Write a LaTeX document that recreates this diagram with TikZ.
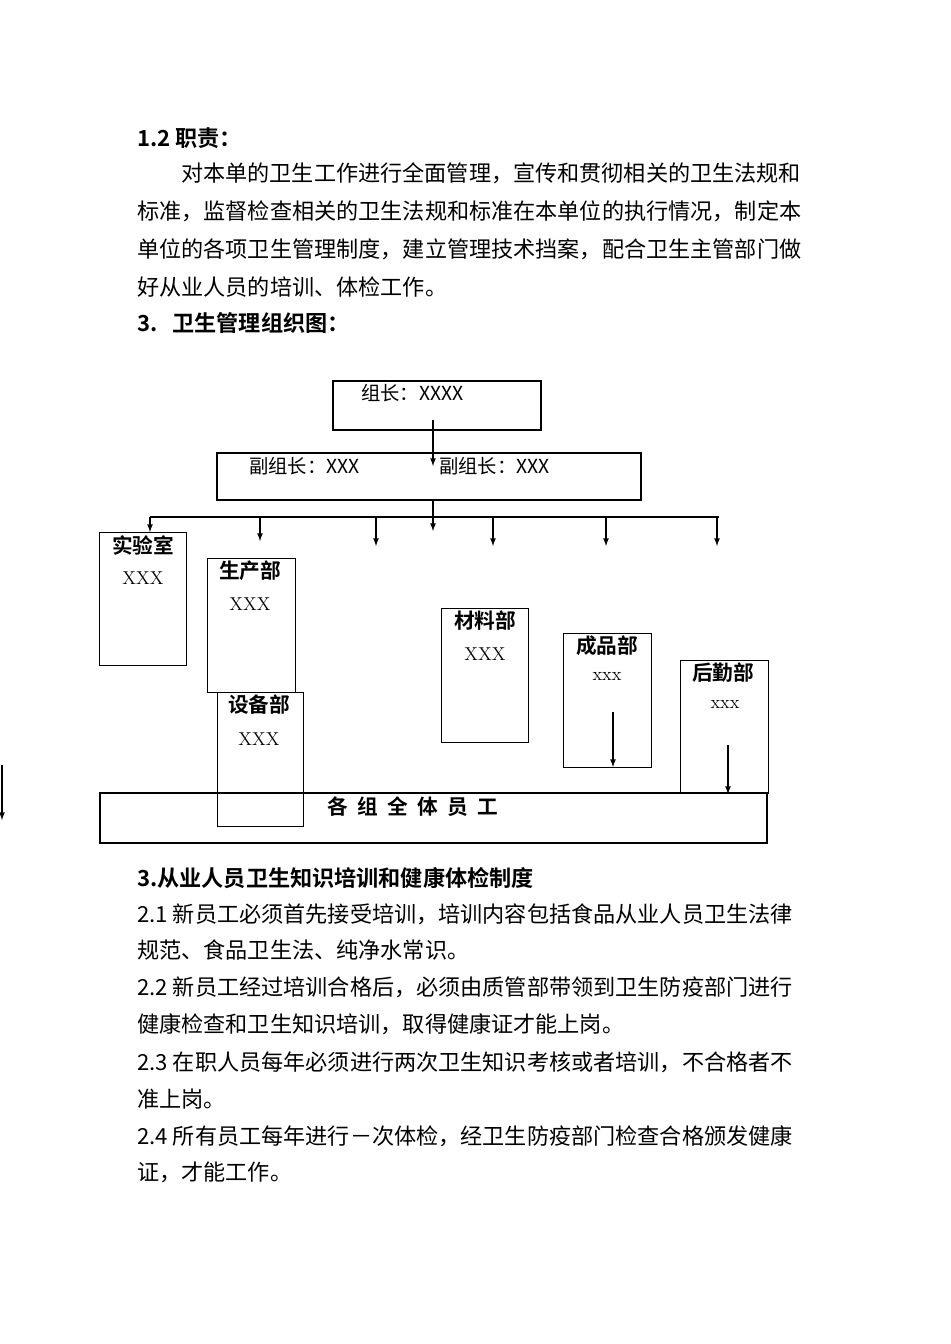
\documentclass[tikz,border=0pt]{standalone}
\usepackage{fontspec}
\newfontfamily\cjk{Noto Sans CJK SC}
\newfontfamily\cjkb{Noto Sans CJK SC Bold}
\begin{document}
\begin{tikzpicture}[x=0.75pt,y=-0.75pt,
  txt/.style={anchor=west,inner sep=0,font=\cjk\fontsize{16.6}{16.6}\selectfont},
  btxt/.style={anchor=west,inner sep=0,font=\cjkb\fontsize{16.6}{16.6}\selectfont},
  box/.style={draw,line width=0.7pt},
  tbox/.style={draw,line width=1.6pt},
  ttl/.style={inner sep=0,font=\cjkb\fontsize{15.5}{15.5}\selectfont},
  nm/.style={inner sep=0,font=\fontsize{14}{14}\selectfont},
  arr/.style={-latex,line width=1pt}]
\useasboundingbox (0,0) rectangle (950,1344);
\node[btxt] (h1) at (137,138) {1.2\ 职责：};
\node[txt] (p1) at (181,173) {对本单的卫生工作进行全面管理，宣传和贯彻相关的卫生法规和};
\node[txt] (p2) at (137,211) {标准，监督检查相关的卫生法规和标准在本单位的执行情况，制定本};
\node[txt] (p3) at (137,249) {单位的各项卫生管理制度，建立管理技术挡案，配合卫生主管部门做};
\node[txt] (p4) at (137,287) {好从业人员的培训、体检工作。};
\node[btxt] (h2) at (137,323) {3.\ \ \ 卫生管理组织图：};
% chart
\draw[tbox] (333,381) rectangle (541,430);
\node[txt,font=\cjk\fontsize{14.5}{14.5}\selectfont] (zz) at (361,393) {组长：XXXX};
\draw[tbox] (217,453) rectangle (641,500);
\node[txt,font=\cjk\fontsize{14.5}{14.5}\selectfont] (f1) at (249,466) {副组长：XXX};
\node[txt,font=\cjk\fontsize{14.5}{14.5}\selectfont] (f2) at (439,466) {副组长：XXX};
\coordinate (a1) at (433,420); \coordinate (a2) at (433,466);
\draw[arr] (a1) -- (a2);
\coordinate (b1) at (433,500); \coordinate (b2) at (433,531);
\draw[arr] (b1) -- (b2);
\coordinate (hl) at (150,517); \coordinate (hr) at (719,517);
\draw[line width=1.6pt] (hl) -- (hr);
\foreach \x/\y in {150/532,260/541,376/546,493/546,606/546,717/546}
  \draw[arr] (\x,517) -- (\x,\y);
\draw[box] (99,532) rectangle (186,665);
\node[ttl] (t1) at (143,545) {实验室}; \node[nm] (x1) at (143,578) {XXX};
\draw[box] (207,558) rectangle (295,692);
\node[ttl] (t2) at (250,571) {生产部}; \node[nm] (x2) at (250,604) {XXX};
\draw[box] (441,608) rectangle (528,742);
\node[ttl] (t4) at (485,621) {材料部}; \node[nm] (x4) at (485,654) {XXX};
\draw[box] (563,633) rectangle (651,767);
\node[ttl] (t5) at (607,646) {成品部}; \node[nm] (x5) at (607,676) {xxx};
\draw[box] (680,660) rectangle (768,793);
\node[ttl] (t6) at (723,673) {后勤部}; \node[nm] (x6) at (725,704) {xxx};
\draw[arr] (613,712) -- (613,767);
\draw[arr] (728,745) -- (728,794);
\draw[tbox] (100,793) rectangle (767,843);
\draw[box] (217,692) rectangle (303,826);
\node[ttl] (t3) at (259,705) {设备部}; \node[nm] (x3) at (259,739) {XXX};
\node[txt,anchor=center,font=\cjkb\fontsize{15.5}{15.5}\selectfont] (yg) at (413,807) {各\ \ 组\ \ 全\ \ 体\ \ 员\ \ 工};
\draw[arr] (2,765) -- (2,820);
% text
\node[btxt] (h3) at (137,878) {3.从业人员卫生知识培训和健康体检制度};
\node[txt] (q1) at (137,914) {2.1\ 新员工必须首先接受培训，培训内容包括食品从业人员卫生法律};
\node[txt] (q2) at (137,950) {规范、食品卫生法、纯净水常识。};
\node[txt] (q3) at (137,987) {2.2\ 新员工经过培训合格后，必须由质管部带领到卫生防疫部门进行};
\node[txt] (q4) at (137,1024) {健康检查和卫生知识培训，取得健康证才能上岗。};
\node[txt] (q5) at (137,1062) {2.3\ 在职人员每年必须进行两次卫生知识考核或者培训，不合格者不};
\node[txt] (q6) at (137,1099) {准上岗。};
\node[txt] (q7) at (137,1136) {2.4\ 所有员工每年进行－次体检，经卫生防疫部门检查合格颁发健康};
\node[txt] (q8) at (137,1172) {证，才能工作。};
\end{tikzpicture}
\end{document}
